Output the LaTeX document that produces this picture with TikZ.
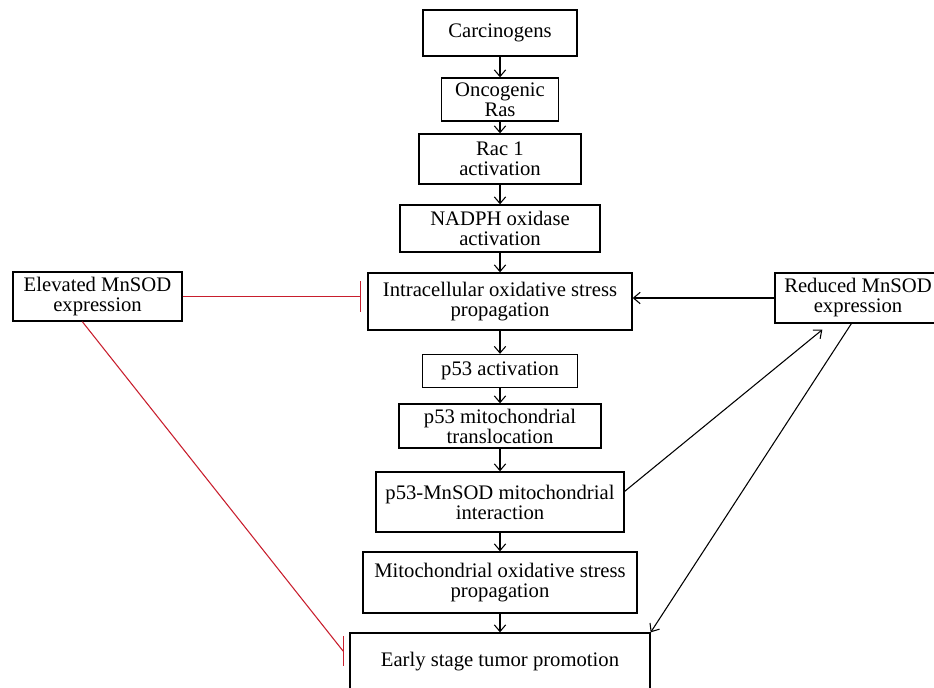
\documentclass[tikz,border=0pt]{standalone}
\usepackage{fontspec}
\setmainfont{Liberation Serif}
\usetikzlibrary{arrows.meta,calc}
\definecolor{inhred}{RGB}{200,30,45}
\begin{document}
\begin{tikzpicture}[x=0.75pt,y=-0.75pt,
  box/.style 2 args={draw=black,line width=1pt,fill=none,inner sep=0pt,align=center,
     minimum width=#1*0.75pt,minimum height=#2*0.75pt,
     font=\fontsize{15.5pt}{15pt}\selectfont},
  act/.style={draw=black,line width=0.8pt,-{Straight Barb[length=5pt,width=8.5pt,line width=0.8pt]}},
  inh/.style={draw=inhred,line width=0.8pt},
]
\useasboundingbox (0,0) rectangle (934,687);
\clip (0,0) rectangle (934,687);
% nodes
\node[box={154}{46}] (carc) at (500,33) {Carcinogens};
\node[box={117}{43}] (onco) at (500,99.5) {Oncogenic\\Ras};
\node[box={162}{50}] (rac) at (500,159) {Rac 1\\activation};
\node[box={200}{47}] (nadph) at (500,228.5) {NADPH oxidase\\activation};
\node[box={264}{57}] (intra) at (500,301.5) {Intracellular oxidative stress\\propagation};
\node[box={169}{49}] (elev) at (97.5,296.5) {Elevated MnSOD\\expression};
\node[box={166}{50}] (redu) at (858,298) {Reduced MnSOD\\expression};
\node[box={155}{33}] (p53a) at (500,371) {p53 activation};
\node[box={202}{44}] (p53t) at (500,426) {p53 mitochondrial\\translocation};
\node[box={248}{60}] (p53m) at (500,502) {p53-MnSOD mitochondrial\\interaction};
\node[box={274}{61}] (mito) at (500,582.5) {Mitochondrial oxidative stress\\propagation};
\node[box={300}{58}] (early) at (500,662) {Early stage tumor promotion};
% helper coordinates
\coordinate (elevOut) at ($(elev.south west)+(70,0)$);
\coordinate (earlyBar) at ($(early.north west)+(-6,19)$);
\coordinate (intraBar) at ($(elev.east -| intra.west)+(-7,0)$);
\coordinate (reduIn) at ($(redu.south west)+(48,6)$);
\coordinate (reduOut) at ($(redu.south west)+(77,0)$);
\coordinate (p53mOut) at ($(p53m.north east)+(0,20)$);
% main chain
\draw[act] (carc) -- (onco);
\draw[act] (onco) -- (rac);
\draw[act] (rac) -- (nadph);
\draw[act] (nadph) -- (intra);
\draw[act] (intra) -- (p53a);
\draw[act] (p53a) -- (p53t);
\draw[act] (p53t) -- (p53m);
\draw[act] (p53m) -- (mito);
\draw[act] (mito) -- (early);
% side arrows
\draw[act] (redu.west) -- (redu.west -| intra.east);
\draw[act] (p53mOut) -- (reduIn);
\draw[act] (reduOut) -- (early.north east);
% inhibition
\draw[inh] (elev.east) -- (intraBar);
\draw[inh] ($(intraBar)+(0,-15.5)$) -- ($(intraBar)+(0,15.5)$);
\draw[inh] (elevOut) -- (earlyBar);
\draw[inh] ($(earlyBar)+(0,-15)$) -- ($(earlyBar)+(0,15)$);
\end{tikzpicture}
\end{document}
